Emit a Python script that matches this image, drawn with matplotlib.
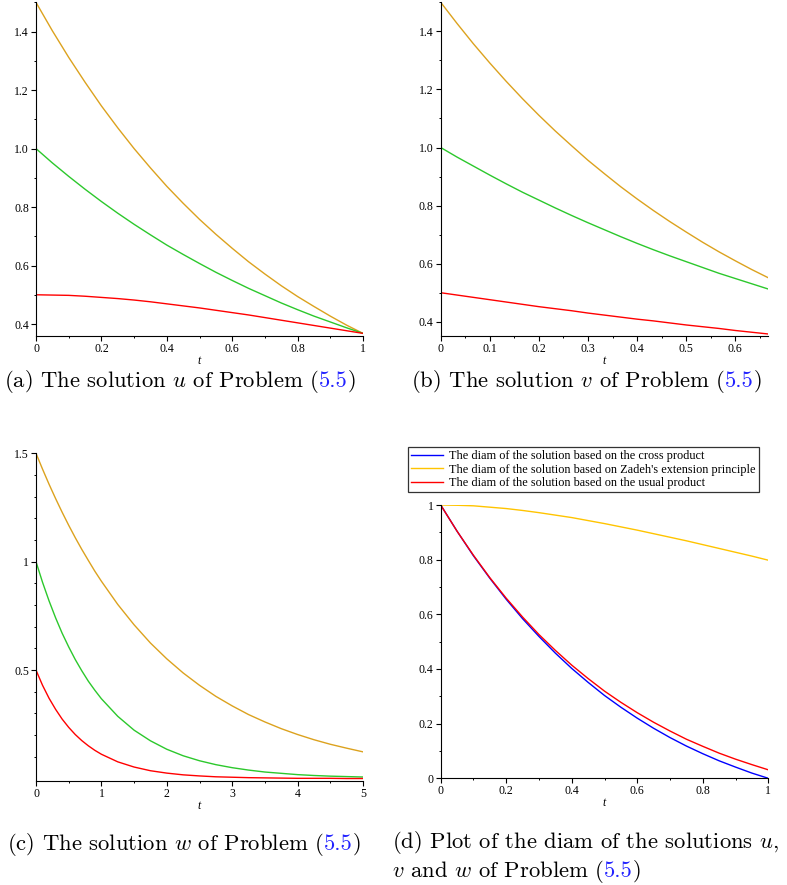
import numpy as np
import matplotlib
matplotlib.use("Agg")
import matplotlib.pyplot as plt
from matplotlib.ticker import MultipleLocator, FixedLocator

plt.rcParams['mathtext.fontset'] = 'cm'
plt.rcParams['font.family'] = ['Liberation Serif']
plt.rcParams['font.size'] = 8.5

# ---- data ----
# (a) solution u, t in [0, 1]
t_a = np.linspace(0, 1, 21)
u_upper = [1.500, 1.403, 1.312, 1.227, 1.146, 1.071, 1.000, 0.934, 0.871, 0.813, 0.758,
           0.707, 0.659, 0.613, 0.571, 0.531, 0.494, 0.460, 0.427, 0.396, 0.368]
u_mid = [1.000, 0.951, 0.905, 0.861, 0.819, 0.779, 0.741, 0.705, 0.670, 0.638, 0.607,
         0.577, 0.549, 0.522, 0.497, 0.472, 0.449, 0.427, 0.407, 0.387, 0.368]
u_lower = [0.500, 0.499, 0.498, 0.495, 0.491, 0.487, 0.482, 0.476, 0.469, 0.462, 0.455,
           0.447, 0.439, 0.431, 0.422, 0.413, 0.404, 0.395, 0.386, 0.377, 0.368]

# (b) solution v, t in [0, 2/3]
t_b = np.linspace(0, 2 / 3, 21)
v_upper = [1.500, 1.427, 1.357, 1.291, 1.228, 1.168, 1.111, 1.057, 1.006, 0.956, 0.910,
           0.865, 0.823, 0.783, 0.745, 0.709, 0.674, 0.641, 0.610, 0.580, 0.552]
v_mid = [1.000, 0.967, 0.936, 0.905, 0.875, 0.846, 0.819, 0.792, 0.766, 0.741, 0.717,
         0.693, 0.670, 0.648, 0.627, 0.607, 0.587, 0.567, 0.549, 0.531, 0.513]
v_lower = [0.500, 0.492, 0.484, 0.476, 0.468, 0.460, 0.452, 0.445, 0.438, 0.430, 0.423,
           0.416, 0.409, 0.403, 0.396, 0.389, 0.383, 0.377, 0.370, 0.364, 0.358]

# (c) solution w, t in [0, 5] (denser near 0 where it bends fast)
t_c = [0, 0.1, 0.2, 0.3, 0.4, 0.5, 0.6, 0.7, 0.8, 0.9, 1.0,
       1.25, 1.5, 1.75, 2.0, 2.25, 2.5, 2.75, 3.0, 3.25, 3.5, 3.75, 4.0, 4.25, 4.5, 4.75, 5.0]
w_upper = [1.500, 1.427, 1.357, 1.291, 1.228, 1.168, 1.111, 1.057, 1.006, 0.956, 0.910,
           0.803, 0.709, 0.625, 0.552, 0.487, 0.430, 0.379, 0.335, 0.295, 0.261, 0.230,
           0.203, 0.179, 0.158, 0.140, 0.123]
w_mid = [1.000, 0.905, 0.819, 0.741, 0.670, 0.607, 0.549, 0.497, 0.449, 0.407, 0.368,
         0.287, 0.223, 0.174, 0.135, 0.105, 0.082, 0.064, 0.050, 0.039, 0.030, 0.024,
         0.018, 0.014, 0.011, 0.009, 0.007]
w_lower = [0.500, 0.430, 0.370, 0.319, 0.274, 0.236, 0.203, 0.175, 0.151, 0.130, 0.112,
           0.077, 0.053, 0.036, 0.025, 0.017, 0.012, 0.008, 0.006, 0.004, 0.003, 0.002,
           0.001, 0.001, 0.001, 0.000, 0.000]

# (d) diam of the solutions, t in [0, 1]
t_d = np.linspace(0, 1, 21)
diam_cross = [1.000, 0.904, 0.814, 0.732, 0.655, 0.584, 0.519, 0.458, 0.402, 0.351, 0.303,
              0.260, 0.220, 0.183, 0.149, 0.118, 0.090, 0.064, 0.041, 0.019, 0.000]
diam_zadeh = [1.000, 0.999, 0.997, 0.992, 0.987, 0.980, 0.972, 0.963, 0.954, 0.943, 0.932,
              0.920, 0.908, 0.895, 0.882, 0.869, 0.855, 0.841, 0.827, 0.813, 0.798]
diam_usual = [1.000, 0.904, 0.816, 0.734, 0.659, 0.590, 0.526, 0.468, 0.414, 0.365, 0.319,
              0.278, 0.240, 0.205, 0.173, 0.143, 0.117, 0.092, 0.070, 0.050, 0.031]

legend_labels = ["The diam of the solution based on the cross product",
                 "The diam of the solution based on Zadeh's extension principle",
                 "The diam of the solution based on the usual product"]

ORANGE = "#DCA21E"
GREEN = "#2CC82C"
RED = "#FF0000"
BLUE = "#0000FF"
GOLD = "#FFC400"
LINKBLUE = "#2222FF"

W, H = 787, 885
fig = plt.figure(figsize=(W / 100, H / 100), dpi=100)


def make_axes(left, right, top, bottom):
    # pixel box -> figure fractions
    ax = fig.add_axes([left / W, 1 - bottom / H, (right - left) / W, (bottom - top) / H])
    ax.spines['top'].set_visible(False)
    ax.spines['right'].set_visible(False)
    ax.spines['left'].set_linewidth(0.8)
    ax.spines['bottom'].set_linewidth(0.8)
    ax.tick_params(which='major', direction='out', length=3.6, width=0.8, pad=1.5,
                   labelsize=8.5)
    ax.tick_params(which='minor', direction='out', length=1.6, width=0.7)
    ax.set_xlabel("t", fontstyle='italic', size=8.5, labelpad=0)
    return ax


# (a)
ax = make_axes(36, 363, 2.4, 336)
ax.plot(t_a, u_upper, color=ORANGE, lw=1.0)
ax.plot(t_a, u_mid, color=GREEN, lw=1.0)
ax.plot(t_a, u_lower, color=RED, lw=1.0)
ax.set_xlim(0, 1)
ax.set_ylim(0.359, 1.5)
ax.set_xticks([0, 0.2, 0.4, 0.6, 0.8, 1], ["0", "0.2", "0.4", "0.6", "0.8", "1"])
ax.xaxis.set_minor_locator(MultipleLocator(0.1))
ax.set_yticks([0.4, 0.6, 0.8, 1.0, 1.2, 1.4], ["0.4", "0.6", "0.8", "1.0", "1.2", "1.4"])
ax.yaxis.set_minor_locator(FixedLocator([0.5, 0.7, 0.9, 1.1, 1.3, 1.5]))

# (b)
ax = make_axes(440.7, 768, 2.3, 336)
ax.plot(t_b, v_upper, color=ORANGE, lw=1.0)
ax.plot(t_b, v_mid, color=GREEN, lw=1.0)
ax.plot(t_b, v_lower, color=RED, lw=1.0)
ax.set_xlim(0, 2 / 3)
ax.set_ylim(0.351, 1.5)
ax.set_xticks([0, 0.1, 0.2, 0.3, 0.4, 0.5, 0.6], ["0", "0.1", "0.2", "0.3", "0.4", "0.5", "0.6"])
ax.xaxis.set_minor_locator(FixedLocator([0.05, 0.15, 0.25, 0.35, 0.45, 0.55, 0.65]))
ax.set_yticks([0.4, 0.6, 0.8, 1.0, 1.2, 1.4], ["0.4", "0.6", "0.8", "1.0", "1.2", "1.4"])
ax.yaxis.set_minor_locator(FixedLocator([0.5, 0.7, 0.9, 1.1, 1.3, 1.5]))

# (c)
ax = make_axes(36, 363, 453.3, 780.7)
ax.plot(t_c, w_upper, color=ORANGE, lw=1.0)
ax.plot(t_c, w_mid, color=GREEN, lw=1.0)
ax.plot(t_c, w_lower, color=RED, lw=1.0)
ax.set_xlim(0, 5)
ax.set_ylim(-0.01, 1.5)
ax.set_xticks([0, 1, 2, 3, 4, 5], ["0", "1", "2", "3", "4", "5"])
ax.xaxis.set_minor_locator(FixedLocator([0.5, 1.5, 2.5, 3.5, 4.5]))
ax.set_yticks([0.5, 1.0, 1.5], ["0.5", "1", "1.5"])
ax.yaxis.set_minor_locator(FixedLocator([0.1, 0.2, 0.3, 0.4, 0.6, 0.7, 0.8, 0.9,
                                         1.1, 1.2, 1.3, 1.4]))

# (d)
ax = make_axes(440.7, 768.3, 505, 778.3)
l1, = ax.plot(t_d, diam_cross, color=BLUE, lw=1.0)
l2, = ax.plot(t_d, diam_zadeh, color=GOLD, lw=1.0)
l3, = ax.plot(t_d, diam_usual, color=RED, lw=1.0)
ax.set_xlim(0, 1)
ax.set_ylim(0, 1)
ax.set_xticks([0, 0.2, 0.4, 0.6, 0.8, 1], ["0", "0.2", "0.4", "0.6", "0.8", "1"])
ax.xaxis.set_minor_locator(MultipleLocator(0.1))
ax.set_yticks([0, 0.2, 0.4, 0.6, 0.8, 1], ["0", "0.2", "0.4", "0.6", "0.8", "1"])
ax.yaxis.set_minor_locator(MultipleLocator(0.1))
leg = ax.legend([l1, l2, l3], legend_labels, loc='upper left',
                bbox_to_anchor=(408 / W, 1 - 447 / H), bbox_transform=fig.transFigure,
                prop=dict(size=8.8), fancybox=False,
                frameon=True, borderpad=0.25, handlelength=2.6, handletextpad=0.5,
                labelspacing=0.12, borderaxespad=0)
leg.get_frame().set_edgecolor('black')
leg.get_frame().set_linewidth(0.9)

# ---- captions (LaTeX-like, with blue reference) ----
CAP_FS = 16.3
renderer = fig.canvas.get_renderer()


def caption(x, y, pieces):
    x = x / W
    for s, c in pieces:
        t = fig.text(x, 1 - y / H, s, color=c, fontsize=CAP_FS, family='cmr10',
                     va='baseline', ha='left')
        bb = t.get_window_extent(renderer=renderer)
        x += bb.width / fig.bbox.width


caption(4, 387, [("(a) The solution $u$ of Problem (", "black"), ("5.5", LINKBLUE), (")", "black")])
caption(411, 387, [("(b) The solution $v$ of Problem (", "black"), ("5.5", LINKBLUE), (")", "black")])
caption(7, 850, [("(c) The solution $w$ of Problem (", "black"), ("5.5", LINKBLUE), (")", "black")])
caption(392, 848, [("(d) Plot of the diam of the solutions $u$,", "black")])
caption(392, 877, [("$v$ and $w$ of Problem (", "black"), ("5.5", LINKBLUE), (")", "black")])

fig.savefig("out.png", dpi=100)
